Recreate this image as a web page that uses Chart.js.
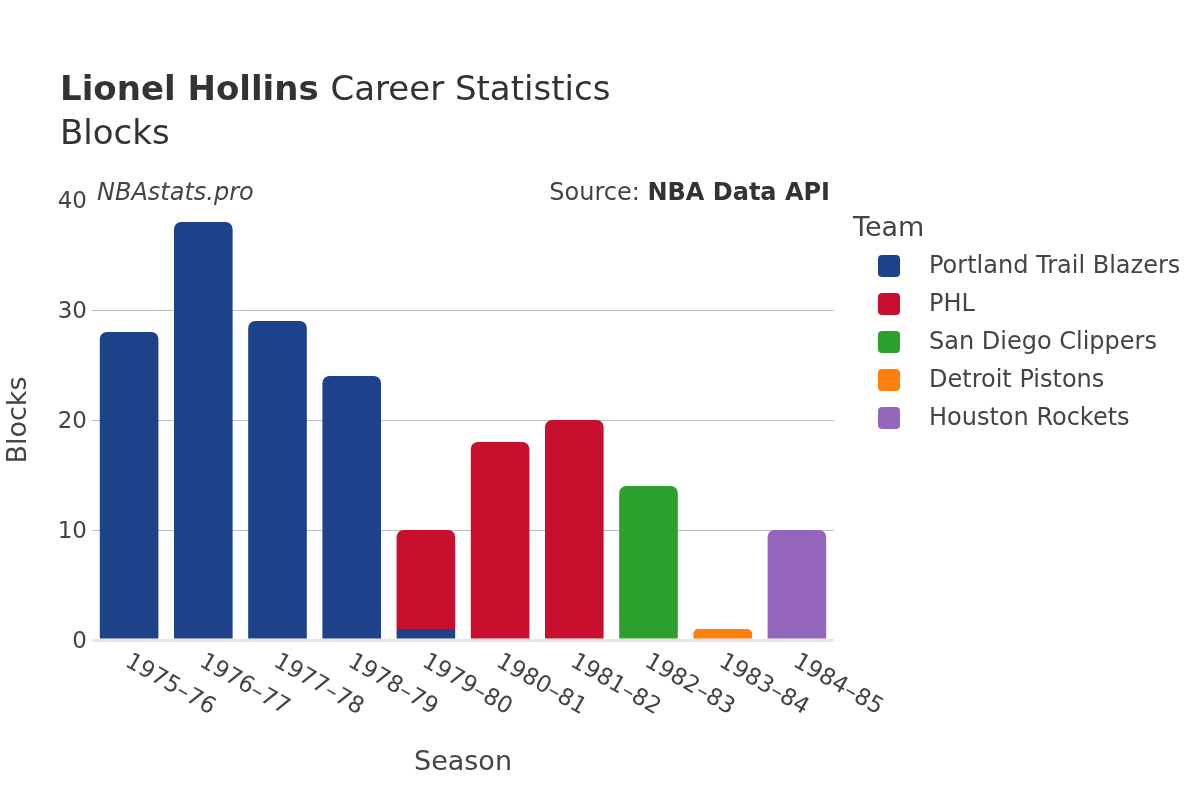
<!DOCTYPE html>
<html>
<head>
<meta charset="utf-8">
<script src="https://cdn.jsdelivr.net/npm/chart.js@4"></script>
<style>
  body { margin: 0; background: #fff; }
  #grafico { display: block; }
</style>
</head>
<body>
<canvas id="grafico" width="1200" height="800"></canvas>
<script>
// Datos del gráfico
const temporadas = ['1975–76', '1976–77', '1977–78', '1978–79', '1979–80', '1980–81', '1981–82', '1982–83', '1983–84', '1984–85'];
const equipos = ['Portland Trail Blazers', 'PHL', 'San Diego Clippers', 'Detroit Pistons', 'Houston Rockets'];
const coloresEquipos = ['#1d428a', '#c8102e', '#2ca02c', '#ff7f0e', '#9467bd'];
const bloqueosPortland = [28, 38, 29, 24, 1, null, null, null, null, null];
const bloqueosPHL = [null, null, null, null, 9, 18, 20, null, null, null];
const bloqueosClippers = [null, null, null, null, null, null, null, 14, null, null];
const bloqueosPistons = [null, null, null, null, null, null, null, null, 1, null];
const bloqueosRockets = [null, null, null, null, null, null, null, null, null, 10];
const ticksY = [0, 10, 20, 30, 40];

const FUENTE = '"DejaVu Sans", sans-serif';
const colorTexto = '#444';

const series = [bloqueosPortland, bloqueosPHL, bloqueosClippers, bloqueosPistons, bloqueosRockets];

// Textos, leyenda y etiquetas del eje X
const pluginTextos = {
  id: 'textos',
  afterDraw(chart) {
    const ctx = chart.ctx;
    const area = chart.chartArea;
    ctx.save();
    ctx.fillStyle = '#333';
    ctx.textBaseline = 'alphabetic';

    // Título
    ctx.textAlign = 'left';
    ctx.font = 'bold 34px ' + FUENTE;
    ctx.fillText('Lionel Hollins', 60, 100);
    const anchoNombre = ctx.measureText('Lionel Hollins ').width;
    ctx.font = '34px ' + FUENTE;
    ctx.fillText('Career Statistics', 60 + anchoNombre, 100);
    ctx.fillText('Blocks', 60, 144);

    // Marca y fuente
    ctx.fillStyle = colorTexto;
    ctx.font = 'italic 24px ' + FUENTE;
    ctx.fillText('NBAstats.pro', 97, 200);
    ctx.textAlign = 'right';
    ctx.font = 'bold 24px ' + FUENTE;
    ctx.fillStyle = '#333';
    ctx.fillText('NBA Data API', 830, 200);
    const anchoApi = ctx.measureText('NBA Data API').width;
    ctx.font = '24px ' + FUENTE;
    ctx.fillStyle = colorTexto;
    ctx.fillText('Source: ', 830 - anchoApi, 200);

    // Títulos de ejes
    ctx.textAlign = 'center';
    ctx.font = '27px ' + FUENTE;
    ctx.fillText('Season', 463, 770);
    ctx.save();
    ctx.translate(26, 420);
    ctx.rotate(-Math.PI / 2);
    ctx.fillText('Blocks', 0, 0);
    ctx.restore();

    // Etiquetas del eje X rotadas
    const escalaX = chart.scales.x;
    ctx.font = '23px ' + FUENTE;
    ctx.textAlign = 'left';
    ctx.textBaseline = 'middle';
    temporadas.forEach((t, i) => {
      const x = escalaX.getPixelForTick(i);
      ctx.save();
      ctx.translate(x - 2, area.bottom + 20);
      ctx.rotate(Math.PI / 6);
      ctx.fillText(t, 0, 0);
      ctx.restore();
    });

    // Leyenda
    ctx.textAlign = 'left';
    ctx.textBaseline = 'alphabetic';
    ctx.font = '27px ' + FUENTE;
    ctx.fillText('Team', 853, 236);
    ctx.font = '24px ' + FUENTE;
    ctx.textBaseline = 'middle';
    chart.data.datasets.forEach((ds, i) => {
      const y = 266 + i * 38;
      ctx.fillStyle = ds.backgroundColor;
      ctx.beginPath();
      ctx.roundRect(878, y - 11, 22, 22, 4);
      ctx.fill();
      ctx.fillStyle = colorTexto;
      ctx.fillText(ds.label, 929, y + 1);
    });
    ctx.restore();
  }
};

const ctx = document.getElementById('grafico').getContext('2d');
window.grafico = new Chart(ctx, {
  type: 'bar',
  data: {
    labels: temporadas,
    datasets: equipos.map((nombre, i) => ({
      label: nombre,
      data: series[i],
      backgroundColor: coloresEquipos[i],
      borderWidth: 0,
      borderRadius: 7,
      borderSkipped: 'start',
      barPercentage: 0.79,
      categoryPercentage: 1
    }))
  },
  options: {
    responsive: false,
    animation: false,
    layout: { padding: { left: 0, right: 366, top: 200, bottom: 0 } },
    plugins: {
      legend: { display: false },
      title: { display: false },
      tooltip: { enabled: false }
    },
    scales: {
      x: {
        stacked: true,
        grid: { display: false },
        border: { display: false },
        ticks: { display: false },
        afterFit(scale) { scale.height = 160; }
      },
      y: {
        stacked: true,
        min: 0,
        max: 40,
        afterBuildTicks(scale) { scale.ticks = ticksY.map(v => ({ value: v })); },
        afterFit(scale) { scale.width = 92; },
        border: { display: false },
        grid: {
          drawTicks: false,
          color: c => c.tick.value === 0 ? '#e6e6e6' : (c.tick.value === 40 ? 'rgba(0,0,0,0)' : '#bdbdbd'),
          lineWidth: c => c.tick.value === 0 ? 3 : 1
        },
        ticks: {
          padding: 5,
          labelOffset: 2,
          color: colorTexto,
          font: { family: FUENTE, size: 23 }
        }
      }
    }
  },
  plugins: [pluginTextos]
});
</script>
</body>
</html>
